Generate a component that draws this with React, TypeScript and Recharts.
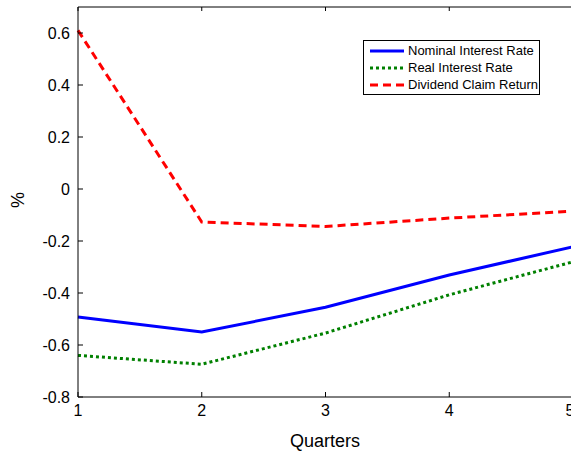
import { LineChart, Line, XAxis, YAxis, Legend } from 'recharts';

const quarters = [1, 2, 3, 4, 5];
const nominalRate = [-0.492, -0.55, -0.455, -0.331, -0.222];
const realRate = [-0.64, -0.674, -0.554, -0.407, -0.28];
const dividendReturn = [0.61, -0.127, -0.144, -0.112, -0.085];

const yTicks = [-0.8, -0.6, -0.4, -0.2, 0, 0.2, 0.4, 0.6];

const series = [
  { key: 'nominal', name: 'Nominal Interest Rate', color: '#0000ff', dash: undefined },
  { key: 'real', name: 'Real Interest Rate', color: '#008000', dash: '3 3' },
  { key: 'dividend', name: 'Dividend Claim Return', color: '#ff0000', dash: '8 5' },
];

const data = quarters.map((q, i) => ({
  q,
  nominal: nominalRate[i],
  real: realRate[i],
  dividend: dividendReturn[i],
}));

const font = '"Liberation Sans", Arial, sans-serif';

function LegendBox() {
  return (
    <div
      style={{
        border: '1px solid #000',
        background: '#fff',
        boxSizing: 'border-box',
        width: 177,
        height: 55,
        paddingTop: 1,
        paddingLeft: 6,
        fontFamily: font,
        fontSize: 13,
        color: '#000',
      }}
    >
      {series.map((s) => (
        <div key={s.key} style={{ display: 'flex', alignItems: 'center', height: 17 }}>
          <svg width={34} height={6} style={{ marginRight: 4 }}>
            <line x1={0} y1={3} x2={34} y2={3} stroke={s.color} strokeWidth={3} strokeDasharray={s.dash} />
          </svg>
          <span style={{ whiteSpace: 'nowrap' }}>{s.name}</span>
        </div>
      ))}
    </div>
  );
}

export default function App() {
  return (
    <div style={{ position: 'absolute', left: 0, top: 0, width: 571, height: 452, overflow: 'hidden', background: '#fff' }}>
      <LineChart width={574} height={452} data={data} margin={{ top: 6, right: 0, bottom: 0, left: 0 }}>
        <XAxis
          xAxisId="bottom"
          dataKey="q"
          type="number"
          domain={[1, 5]}
          ticks={quarters}
          height={55}
          stroke="#000"
          tickSize={-5}
          tickMargin={13}
          tick={{ fill: '#000', fontSize: 16, fontFamily: font }}
          label={{
            content: () => (
              <text x={325} y={447} textAnchor="middle" fontSize={18} fontFamily={font} fill="#000">
                Quarters
              </text>
            ),
          }}
        />
        <XAxis
          xAxisId="top"
          orientation="top"
          dataKey="q"
          type="number"
          domain={[1, 5]}
          ticks={quarters}
          height={1}
          stroke="#000"
          tickSize={-4}
          tickFormatter={() => ''}
        />
        <YAxis
          yAxisId="left"
          type="number"
          domain={[-0.8, 0.7]}
          ticks={yTicks}
          width={78}
          stroke="#000"
          tickSize={-5}
          tickMargin={13}
          tick={{ fill: '#000', fontSize: 16, fontFamily: font }}
          label={{
            content: () => (
              <text
                x={24}
                y={200}
                transform="rotate(-90 24 200)"
                textAnchor="middle"
                fontSize={18}
                fontFamily={font}
                fill="#000"
              >
                %
              </text>
            ),
          }}
        />
        <YAxis
          yAxisId="right"
          orientation="right"
          type="number"
          domain={[-0.8, 0.7]}
          ticks={yTicks}
          width={1}
          stroke="#000"
          tickSize={-4}
          tickFormatter={() => ''}
        />
        <Legend
          layout="vertical"
          align="center"
          verticalAlign="middle"
          content={() => <LegendBox />}
          wrapperStyle={{ position: 'absolute', left: 363, top: 40, width: 177, height: 55 }}
        />
        {series.map((s) => (
          <Line
            key={s.key}
            xAxisId="bottom"
            yAxisId="left"
            type="linear"
            dataKey={s.key}
            name={s.name}
            stroke={s.color}
            strokeWidth={3}
            strokeDasharray={s.dash}
            dot={false}
            activeDot={false}
            isAnimationActive={false}
          />
        ))}
      </LineChart>
    </div>
  );
}
